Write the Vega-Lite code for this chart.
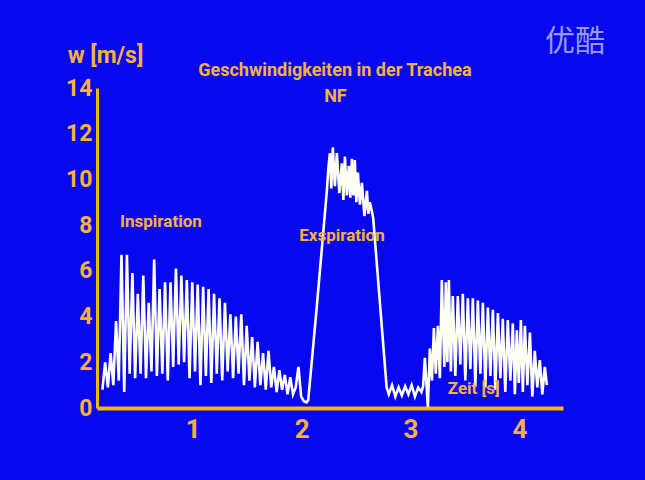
{
  "$schema": "https://vega.github.io/schema/vega-lite/v6.json",
  "width": 466,
  "height": 320,
  "autosize": {"type": "none"},
  "padding": {"left": 97, "top": 88, "right": 82, "bottom": 72},
  "background": "#0808f0",
  "view": {"stroke": null},
  "config": {
    "font": "Roboto, Liberation Sans, sans-serif",
    "axis": {"grid": false, "ticks": false, "domainColor": "#f7b600", "labelColor": "#f6b23c", "labelFont": "Roboto, Liberation Sans, sans-serif", "labelFontWeight": "bold"}
  },
  "datasets": {
    "signal": [
      {"t": 0.170, "w": 0.8}, {"t": 0.195, "w": 2.0}, {"t": 0.220, "w": 0.9}, {"t": 0.245, "w": 2.4},
      {"t": 0.270, "w": 1.0}, {"t": 0.295, "w": 3.8}, {"t": 0.320, "w": 1.2}, {"t": 0.345, "w": 6.7},
      {"t": 0.370, "w": 0.7}, {"t": 0.395, "w": 6.7}, {"t": 0.420, "w": 1.5}, {"t": 0.445, "w": 5.9},
      {"t": 0.470, "w": 1.3}, {"t": 0.495, "w": 5.0}, {"t": 0.520, "w": 1.5}, {"t": 0.545, "w": 5.8},
      {"t": 0.570, "w": 1.3}, {"t": 0.595, "w": 4.6}, {"t": 0.620, "w": 1.6}, {"t": 0.645, "w": 6.5},
      {"t": 0.670, "w": 1.4}, {"t": 0.695, "w": 5.2}, {"t": 0.720, "w": 1.5}, {"t": 0.745, "w": 5.5},
      {"t": 0.770, "w": 1.2}, {"t": 0.795, "w": 5.5}, {"t": 0.820, "w": 1.8}, {"t": 0.845, "w": 6.1},
      {"t": 0.870, "w": 1.9}, {"t": 0.895, "w": 5.8}, {"t": 0.920, "w": 2.0}, {"t": 0.945, "w": 5.6},
      {"t": 0.970, "w": 1.3}, {"t": 0.995, "w": 5.5}, {"t": 1.020, "w": 1.6}, {"t": 1.045, "w": 5.4},
      {"t": 1.070, "w": 1.0}, {"t": 1.095, "w": 5.3}, {"t": 1.120, "w": 1.4}, {"t": 1.145, "w": 5.2},
      {"t": 1.170, "w": 1.1}, {"t": 1.195, "w": 5.0}, {"t": 1.220, "w": 1.5}, {"t": 1.245, "w": 4.8},
      {"t": 1.270, "w": 1.2}, {"t": 1.295, "w": 4.6}, {"t": 1.320, "w": 1.6}, {"t": 1.345, "w": 4.1},
      {"t": 1.370, "w": 1.3}, {"t": 1.395, "w": 4.0}, {"t": 1.420, "w": 1.5}, {"t": 1.445, "w": 4.1},
      {"t": 1.470, "w": 1.0}, {"t": 1.495, "w": 3.6}, {"t": 1.520, "w": 1.2}, {"t": 1.545, "w": 3.1},
      {"t": 1.570, "w": 0.9}, {"t": 1.595, "w": 2.9}, {"t": 1.620, "w": 1.0}, {"t": 1.645, "w": 2.4},
      {"t": 1.670, "w": 0.8}, {"t": 1.695, "w": 2.5}, {"t": 1.720, "w": 0.9}, {"t": 1.745, "w": 1.8},
      {"t": 1.770, "w": 0.7}, {"t": 1.795, "w": 1.65}, {"t": 1.820, "w": 0.8}, {"t": 1.845, "w": 1.45},
      {"t": 1.870, "w": 0.6}, {"t": 1.895, "w": 1.35}, {"t": 1.920, "w": 0.6}, {"t": 1.945, "w": 0.9},
      {"t": 1.970, "w": 1.8}, {"t": 1.995, "w": 0.5}, {"t": 2.020, "w": 0.3}, {"t": 2.045, "w": 0.25},
      {"t": 2.060, "w": 0.35}, {"t": 2.140, "w": 4.5}, {"t": 2.231, "w": 9.5}, {"t": 2.245, "w": 10.5},
      {"t": 2.259, "w": 11.15}, {"t": 2.272, "w": 9.6}, {"t": 2.286, "w": 11.4}, {"t": 2.305, "w": 9.7},
      {"t": 2.323, "w": 11.15}, {"t": 2.346, "w": 9.4}, {"t": 2.369, "w": 10.7}, {"t": 2.383, "w": 9.1},
      {"t": 2.397, "w": 11.0}, {"t": 2.415, "w": 9.3}, {"t": 2.433, "w": 10.6}, {"t": 2.447, "w": 9.2},
      {"t": 2.461, "w": 10.9}, {"t": 2.475, "w": 9.3}, {"t": 2.488, "w": 10.85}, {"t": 2.502, "w": 9.0},
      {"t": 2.516, "w": 10.3}, {"t": 2.535, "w": 8.9}, {"t": 2.553, "w": 9.85}, {"t": 2.576, "w": 8.4},
      {"t": 2.599, "w": 9.5}, {"t": 2.612, "w": 8.5}, {"t": 2.626, "w": 9.0}, {"t": 2.645, "w": 8.6},
      {"t": 2.657, "w": 8.3}, {"t": 2.720, "w": 4.5}, {"t": 2.780, "w": 0.9}, {"t": 2.800, "w": 0.6},
      {"t": 2.830, "w": 1.0}, {"t": 2.860, "w": 0.5}, {"t": 2.890, "w": 0.9}, {"t": 2.920, "w": 0.55},
      {"t": 2.950, "w": 0.95}, {"t": 2.980, "w": 0.6}, {"t": 3.010, "w": 1.0}, {"t": 3.040, "w": 0.5},
      {"t": 3.070, "w": 0.9}, {"t": 3.100, "w": 0.7}, {"t": 3.115, "w": 0.95}, {"t": 3.131, "w": 2.2},
      {"t": 3.159, "w": 0.05}, {"t": 3.177, "w": 2.6}, {"t": 3.196, "w": 1.2}, {"t": 3.214, "w": 3.5},
      {"t": 3.232, "w": 1.5}, {"t": 3.251, "w": 3.6}, {"t": 3.269, "w": 1.3}, {"t": 3.287, "w": 5.6},
      {"t": 3.310, "w": 1.8}, {"t": 3.324, "w": 5.5}, {"t": 3.338, "w": 2.0}, {"t": 3.352, "w": 5.6},
      {"t": 3.370, "w": 1.6}, {"t": 3.388, "w": 4.9}, {"t": 3.411, "w": 1.4}, {"t": 3.434, "w": 4.9},
      {"t": 3.457, "w": 1.9}, {"t": 3.480, "w": 5.0}, {"t": 3.503, "w": 1.2}, {"t": 3.526, "w": 4.8},
      {"t": 3.549, "w": 1.7}, {"t": 3.572, "w": 4.8}, {"t": 3.595, "w": 1.0}, {"t": 3.618, "w": 4.7},
      {"t": 3.641, "w": 1.5}, {"t": 3.664, "w": 4.6}, {"t": 3.687, "w": 0.9}, {"t": 3.710, "w": 4.4},
      {"t": 3.733, "w": 1.4}, {"t": 3.756, "w": 4.3}, {"t": 3.779, "w": 0.8}, {"t": 3.802, "w": 4.15},
      {"t": 3.825, "w": 1.3}, {"t": 3.847, "w": 3.9}, {"t": 3.870, "w": 0.7}, {"t": 3.893, "w": 3.85},
      {"t": 3.916, "w": 1.2}, {"t": 3.939, "w": 3.7}, {"t": 3.958, "w": 0.6}, {"t": 3.976, "w": 3.4},
      {"t": 3.994, "w": 1.1}, {"t": 4.013, "w": 3.85}, {"t": 4.031, "w": 0.7}, {"t": 4.050, "w": 3.6},
      {"t": 4.073, "w": 1.0}, {"t": 4.096, "w": 3.3}, {"t": 4.118, "w": 0.5}, {"t": 4.141, "w": 2.5},
      {"t": 4.164, "w": 0.9}, {"t": 4.187, "w": 2.1}, {"t": 4.210, "w": 0.6}, {"t": 4.233, "w": 1.8},
      {"t": 4.252, "w": 1.0}
    ],
    "titles": [
      {"t": 2.305, "w": 14.74, "text": "Geschwindigkeiten in der Trachea"},
      {"t": 2.31, "w": 13.6, "text": "NF"}
    ],
    "labels": [
      {"t": 0.707, "w": 8.14, "text": "Inspiration"},
      {"t": 2.37, "w": 7.52, "text": "Exspiration"},
      {"t": 3.58, "w": 0.83, "text": "Zeit [s]"}
    ],
    "mark": [
      {"t": 4.51, "w": 16.0, "text": "优酷"}
    ]
  },
  "layer": [
    {
      "data": {"name": "signal"},
      "mark": {"type": "line", "color": "#fffef2", "strokeWidth": 2.6, "interpolate": "linear", "strokeJoin": "miter"},
      "encoding": {
        "x": {"field": "t", "type": "quantitative", "scale": {"domain": [0.12, 4.4], "nice": false, "zero": false},
              "axis": {"values": [1, 2, 3, 4], "format": "d", "title": null, "domainWidth": 4, "labelFontSize": 26, "labelPadding": 8}},
        "y": {"field": "w", "type": "quantitative", "scale": {"domain": [0, 14], "nice": false},
              "axis": {"values": [0, 2, 4, 6, 8, 10, 12, 14], "title": "w [m/s]", "titleAngle": 0, "titleX": 8, "titleY": -33,
                       "titleAlign": "center", "titleBaseline": "middle", "titleColor": "#f6b23c", "titleFontSize": 23,
                       "titleFont": "Roboto, Liberation Sans, sans-serif", "titleFontWeight": "bold",
                       "domainWidth": 3, "labelFontSize": 23, "labelPadding": 5}}
      }
    },
    {
      "data": {"name": "titles"},
      "mark": {"type": "text", "color": "#f6b23c", "fontSize": 18, "fontWeight": "bold", "font": "Roboto, Liberation Sans, sans-serif", "baseline": "middle", "align": "center"},
      "encoding": {
        "x": {"field": "t", "type": "quantitative"},
        "y": {"field": "w", "type": "quantitative"},
        "text": {"field": "text"}
      }
    },
    {
      "data": {"name": "labels"},
      "mark": {"type": "text", "color": "#f6b23c", "fontSize": 17, "fontWeight": "bold", "font": "Roboto, Liberation Sans, sans-serif", "baseline": "middle", "align": "center"},
      "encoding": {
        "x": {"field": "t", "type": "quantitative"},
        "y": {"field": "w", "type": "quantitative"},
        "text": {"field": "text"}
      }
    },
    {
      "data": {"name": "mark"},
      "mark": {"type": "text", "color": "#b0b4ee", "opacity": 0.85, "fontSize": 30, "font": "Noto Sans CJK SC", "baseline": "middle", "align": "center"},
      "encoding": {
        "x": {"field": "t", "type": "quantitative"},
        "y": {"field": "w", "type": "quantitative"},
        "text": {"field": "text"}
      }
    }
  ]
}
